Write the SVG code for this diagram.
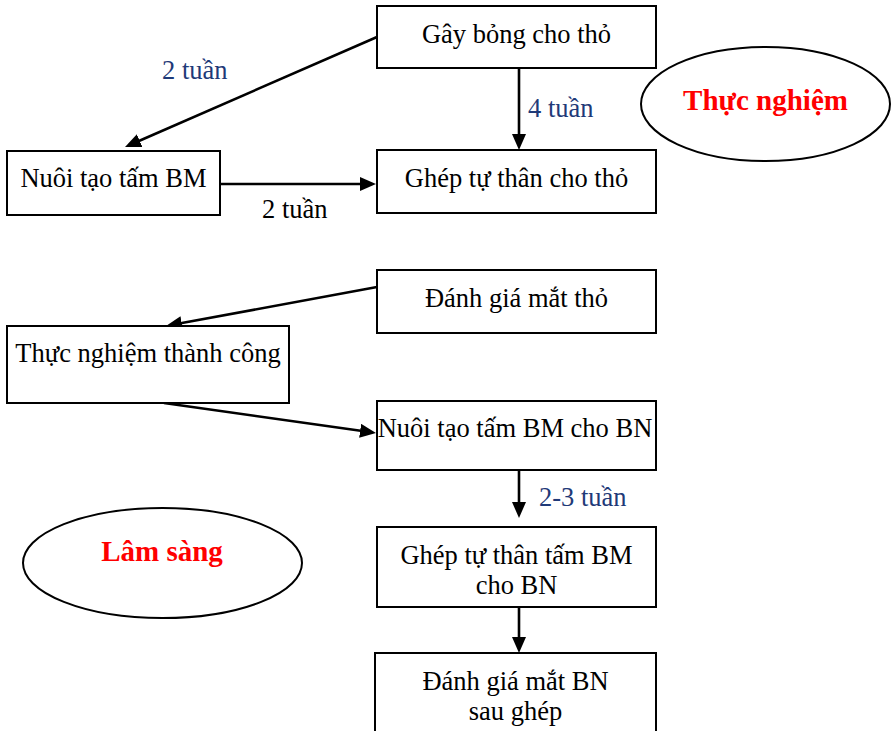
<svg xmlns="http://www.w3.org/2000/svg" width="892" height="731" viewBox="0 0 892 731">
  <style>
    .box { fill: #ffffff; stroke: #000000; stroke-width: 2; }
    .ell { fill: #ffffff; stroke: #000000; stroke-width: 2; }
    .t { font-family: "Liberation Serif", "Times New Roman", serif; font-size: 26.5px; fill: #000000; text-anchor: middle; }
    .title { font-family: "Liberation Serif", "Times New Roman", serif; font-size: 29px; font-weight: bold; fill: #ff0000; text-anchor: middle; }
    .lbl { font-family: "Liberation Serif", "Times New Roman", serif; font-size: 26.5px; fill: #1f3a78; }
    .lblk { font-family: "Liberation Serif", "Times New Roman", serif; font-size: 26.5px; fill: #000000; }
    .conn { stroke: #000000; stroke-width: 2.6; fill: none; marker-end: url(#arrow); }
  </style>
  <defs>
    <marker id="arrow" markerUnits="userSpaceOnUse" markerWidth="16" markerHeight="14" refX="4" refY="7" orient="auto">
      <path d="M0,0 L16,7 L0,14 z" fill="#000000"/>
    </marker>
  </defs>
  <rect width="892" height="731" fill="#ffffff"/>

  <g id="connectors">
    <line class="conn" x1="377" y1="37" x2="136" y2="142.2"/>
    <line class="conn" x1="220" y1="184" x2="364" y2="184"/>
    <line class="conn" x1="519" y1="68" x2="519" y2="138"/>
    <line class="conn" x1="377" y1="287" x2="177.8" y2="323.8"/>
    <line class="conn" x1="164" y1="403" x2="364.1" y2="431.3"/>
    <line class="conn" x1="519" y1="470" x2="519" y2="506"/>
    <line class="conn" x1="519" y1="607" x2="519" y2="641"/>
    <text class="lbl" x="162" y="79">2 tuần</text>
    <text class="lblk" x="262" y="218">2 tuần</text>
    <text class="lbl" x="528" y="117">4 tuần</text>
    <text class="lbl" x="539" y="506">2-3 tuần</text>
  </g>

  <g id="n-gay-bong">
    <rect class="box" x="377" y="6" width="279" height="62"/>
    <text class="t" x="516.5" y="43">Gây bỏng cho thỏ</text>
  </g>
  <g id="n-ghep-tho">
    <rect class="box" x="377" y="150" width="279" height="63"/>
    <text class="t" x="516.5" y="187">Ghép tự thân cho thỏ</text>
  </g>
  <g id="n-nuoi-tao">
    <rect class="box" x="7" y="151" width="213" height="64"/>
    <text class="t" x="113.5" y="187">Nuôi tạo tấm BM</text>
  </g>
  <g id="n-thuc-nghiem">
    <ellipse class="ell" cx="765.5" cy="104" rx="124.5" ry="57"/>
    <text class="title" x="765.5" y="110">Thực nghiệm</text>
  </g>
  <g id="n-danh-gia-tho">
    <rect class="box" x="377" y="270" width="279" height="63"/>
    <text class="t" x="516.5" y="307">Đánh giá mắt thỏ</text>
  </g>
  <g id="n-tn-thanh-cong">
    <rect class="box" x="7" y="326" width="282" height="77"/>
    <text class="t" x="148" y="362">Thực nghiệm thành công</text>
  </g>
  <g id="n-nuoi-tao-bn">
    <rect class="box" x="377" y="401" width="279" height="69"/>
    <text class="t" x="515" y="437">Nuôi tạo tấm BM cho BN</text>
  </g>
  <g id="n-ghep-bn">
    <rect class="box" x="377" y="527" width="279" height="80"/>
    <text class="t" x="516.5" y="564">Ghép tự thân tấm BM</text>
    <text class="t" x="516.5" y="594">cho BN</text>
  </g>
  <g id="n-danh-gia-bn">
    <rect class="box" x="375" y="653" width="281" height="90"/>
    <text class="t" x="515.5" y="690">Đánh giá mắt BN</text>
    <text class="t" x="515.5" y="720">sau ghép</text>
  </g>
  <g id="n-lam-sang">
    <ellipse class="ell" cx="162.5" cy="563" rx="139.5" ry="55"/>
    <text class="title" x="162" y="561">Lâm sàng</text>
  </g>
</svg>
